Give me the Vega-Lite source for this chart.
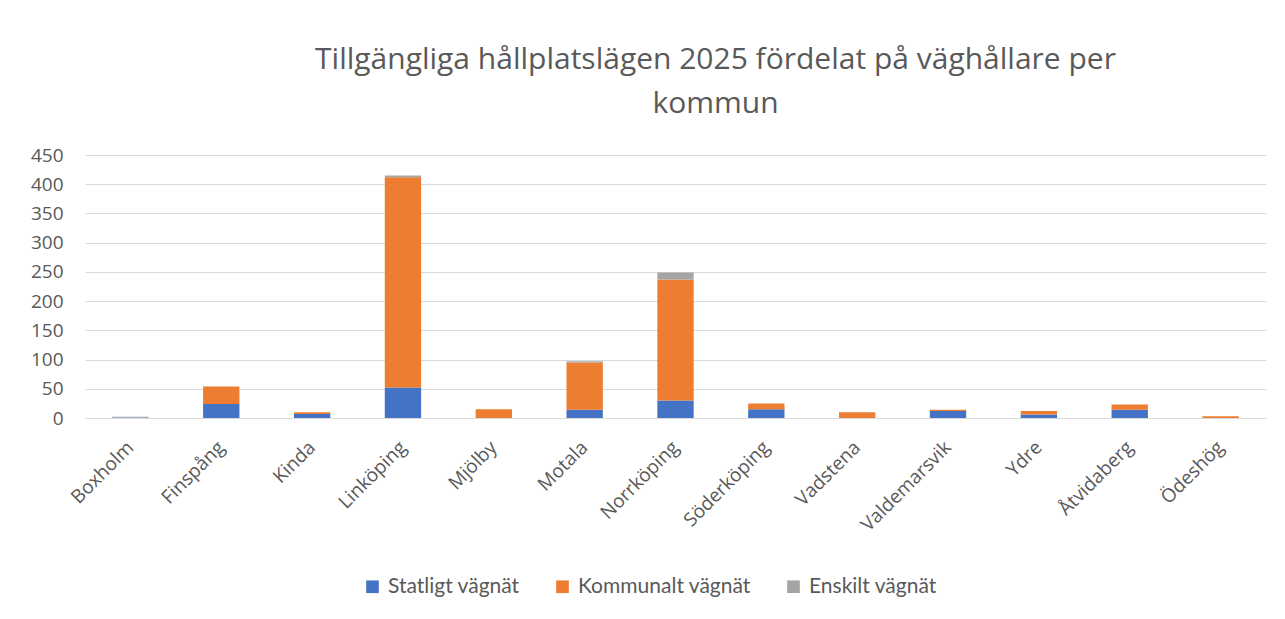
{
  "$schema": "https://vega.github.io/schema/vega-lite/v6.json",
  "width": 1181,
  "height": 263,
  "autosize": {"type": "none"},
  "padding": {"left": 85, "top": 155, "right": 19, "bottom": 201},
  "background": "white",
  "title": {
    "text": ["Tillgängliga hållplatslägen 2025 fördelat på väghållare per", "kommun"],
    "font": "Open Sans",
    "fontSize": 30,
    "fontWeight": "normal",
    "color": "#595959",
    "anchor": "middle",
    "dx": 40,
    "offset": 27,
    "lineHeight": 44
  },
  "data": {
    "values": [
      {"kommun": "Boxholm", "vagnat": "Statligt vägnät", "antal": 1},
      {"kommun": "Boxholm", "vagnat": "Kommunalt vägnät", "antal": 0},
      {"kommun": "Boxholm", "vagnat": "Enskilt vägnät", "antal": 1},
      {"kommun": "Finspång", "vagnat": "Statligt vägnät", "antal": 24},
      {"kommun": "Finspång", "vagnat": "Kommunalt vägnät", "antal": 30},
      {"kommun": "Finspång", "vagnat": "Enskilt vägnät", "antal": 0},
      {"kommun": "Kinda", "vagnat": "Statligt vägnät", "antal": 7},
      {"kommun": "Kinda", "vagnat": "Kommunalt vägnät", "antal": 3},
      {"kommun": "Kinda", "vagnat": "Enskilt vägnät", "antal": 0},
      {"kommun": "Linköping", "vagnat": "Statligt vägnät", "antal": 52},
      {"kommun": "Linköping", "vagnat": "Kommunalt vägnät", "antal": 360},
      {"kommun": "Linköping", "vagnat": "Enskilt vägnät", "antal": 3},
      {"kommun": "Mjölby", "vagnat": "Statligt vägnät", "antal": 0},
      {"kommun": "Mjölby", "vagnat": "Kommunalt vägnät", "antal": 15},
      {"kommun": "Mjölby", "vagnat": "Enskilt vägnät", "antal": 0},
      {"kommun": "Motala", "vagnat": "Statligt vägnät", "antal": 14},
      {"kommun": "Motala", "vagnat": "Kommunalt vägnät", "antal": 81},
      {"kommun": "Motala", "vagnat": "Enskilt vägnät", "antal": 2},
      {"kommun": "Norrköping", "vagnat": "Statligt vägnät", "antal": 30},
      {"kommun": "Norrköping", "vagnat": "Kommunalt vägnät", "antal": 207},
      {"kommun": "Norrköping", "vagnat": "Enskilt vägnät", "antal": 12},
      {"kommun": "Söderköping", "vagnat": "Statligt vägnät", "antal": 15},
      {"kommun": "Söderköping", "vagnat": "Kommunalt vägnät", "antal": 10},
      {"kommun": "Söderköping", "vagnat": "Enskilt vägnät", "antal": 0},
      {"kommun": "Vadstena", "vagnat": "Statligt vägnät", "antal": 0},
      {"kommun": "Vadstena", "vagnat": "Kommunalt vägnät", "antal": 10},
      {"kommun": "Vadstena", "vagnat": "Enskilt vägnät", "antal": 0},
      {"kommun": "Valdemarsvik", "vagnat": "Statligt vägnät", "antal": 12},
      {"kommun": "Valdemarsvik", "vagnat": "Kommunalt vägnät", "antal": 2},
      {"kommun": "Valdemarsvik", "vagnat": "Enskilt vägnät", "antal": 0},
      {"kommun": "Ydre", "vagnat": "Statligt vägnät", "antal": 6},
      {"kommun": "Ydre", "vagnat": "Kommunalt vägnät", "antal": 6},
      {"kommun": "Ydre", "vagnat": "Enskilt vägnät", "antal": 0},
      {"kommun": "Åtvidaberg", "vagnat": "Statligt vägnät", "antal": 14},
      {"kommun": "Åtvidaberg", "vagnat": "Kommunalt vägnät", "antal": 9},
      {"kommun": "Åtvidaberg", "vagnat": "Enskilt vägnät", "antal": 0},
      {"kommun": "Ödeshög", "vagnat": "Statligt vägnät", "antal": 0},
      {"kommun": "Ödeshög", "vagnat": "Kommunalt vägnät", "antal": 3},
      {"kommun": "Ödeshög", "vagnat": "Enskilt vägnät", "antal": 0}
    ]
  },
  "mark": {"type": "bar"},
  "encoding": {
    "x": {
      "field": "kommun",
      "type": "nominal",
      "sort": null,
      "scale": {"paddingInner": 0.6, "paddingOuter": 0.3},
      "axis": {
        "title": null,
        "labelAngle": -45,
        "labelAlign": "right",
        "labelBaseline": "middle",
        "labelFont": "Open Sans",
        "labelFontSize": 19,
        "labelColor": "#595959",
        "labelPadding": 26,
        "labelLimit": 300,
        "ticks": false,
        "domainColor": "#d9d9d9",
        "domainWidth": 1
      }
    },
    "y": {
      "field": "antal",
      "type": "quantitative",
      "stack": "zero",
      "scale": {"domain": [0, 450], "nice": false},
      "axis": {
        "title": null,
        "values": [0, 50, 100, 150, 200, 250, 300, 350, 400, 450],
        "labelFont": "Open Sans",
        "labelFontSize": 19,
        "labelColor": "#595959",
        "labelPadding": 22,
        "ticks": false,
        "domain": false,
        "gridColor": "#d9d9d9",
        "gridWidth": 1
      }
    },
    "color": {
      "field": "vagnat",
      "type": "nominal",
      "sort": ["Statligt vägnät", "Kommunalt vägnät", "Enskilt vägnät"],
      "scale": {
        "domain": ["Statligt vägnät", "Kommunalt vägnät", "Enskilt vägnät"],
        "range": ["#4472C4", "#ED7D31", "#A5A5A5"]
      },
      "legend": {
        "title": null,
        "orient": "none",
        "direction": "horizontal",
        "legendX": 277,
        "legendY": 421,
        "symbolType": "square",
        "symbolSize": 160,
        "symbolStrokeWidth": 0,
        "labelFont": "Lato",
        "labelFontSize": 21,
        "labelColor": "#595959",
        "labelOffset": 5,
        "labelLimit": 400,
        "columnPadding": 32
      }
    },
    "order": {"field": "vagnat", "sort": "descending"}
  },
  "config": {
    "view": {"stroke": null}
  }
}
